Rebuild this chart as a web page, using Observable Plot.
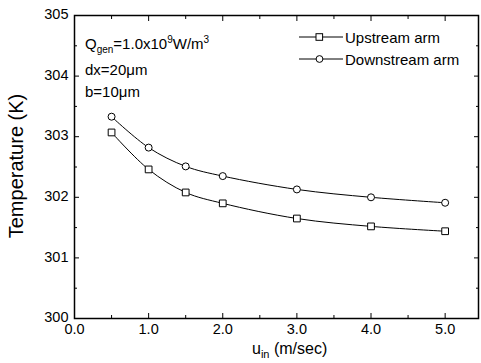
<!DOCTYPE html>
<html>
<head>
<meta charset="utf-8">
<script src="https://cdn.jsdelivr.net/npm/d3@7"></script>
<script src="https://cdn.jsdelivr.net/npm/@observablehq/plot@0.6"></script>
<style>
  html, body { margin: 0; padding: 0; background: #fff; }
  #wrap { position: relative; width: 481px; height: 363px; font-family: "Liberation Sans", Arial, sans-serif; color: #000; }
  #wrap svg.plot { position: absolute; left: 0; top: 0; }
  .ann { position: absolute; font-size: 15px; line-height: 1; white-space: nowrap; }
  .ann sub { font-size: 10px; vertical-align: -4px; }
  .ann sup { font-size: 10px; vertical-align: 6px; }
  #ylab { position: absolute; left: 16px; top: 166px; font-size: 20px; line-height: 1.15; white-space: nowrap; transform: translate(-50%, -50%) rotate(-90deg); }
  #xlab { position: absolute; left: 252px; top: 341px; font-size: 16px; line-height: 1; white-space: nowrap; }
  #xlab sub { font-size: 11px; vertical-align: -4px; }
  #legend { position: absolute; left: 0; top: 0; }
</style>
</head>
<body>
<div id="wrap"></div>
<script>
// Data
const u = [0.5, 1.0, 1.5, 2.0, 3.0, 4.0, 5.0];
const upstream = [303.07, 302.46, 302.08, 301.90, 301.65, 301.52, 301.44];
const downstream = [303.33, 302.82, 302.51, 302.35, 302.13, 302.00, 301.91];
const seriesNames = ["Upstream arm", "Downstream arm"];
const xTicks = [0, 1, 2, 3, 4, 5];
const xMinor = [0.5, 1.5, 2.5, 3.5, 4.5];
const yTicks = [300, 301, 302, 303, 304, 305];
const yMinor = [300.5, 301.5, 302.5, 303.5, 304.5];

const up = u.map((x, i) => ({u: x, t: upstream[i]}));
const down = u.map((x, i) => ({u: x, t: downstream[i]}));

const chart = Plot.plot({
  width: 481, height: 363,
  marginLeft: 74, marginRight: 3, marginTop: 15, marginBottom: 45,
  x: {domain: [0, 5.45]},
  y: {domain: [300, 305]},
  style: {fontFamily: "'Liberation Sans', Arial, sans-serif", fontSize: "14.5px", color: "black", background: "transparent", overflow: "visible"},
  marks: [
    Plot.axisX(xTicks, {anchor: "bottom", tickSize: -5, tickFormat: () => "", label: null}),
    Plot.axisX(xMinor, {anchor: "bottom", tickSize: -3, tickFormat: () => "", label: null}),
    Plot.axisX(xTicks, {anchor: "top", tickSize: -5, tickFormat: () => "", label: null}),
    Plot.axisX(xMinor, {anchor: "top", tickSize: -3, tickFormat: () => "", label: null}),
    Plot.axisX(xTicks, {anchor: "bottom", tickSize: 0, tickPadding: 5, tickFormat: d => d.toFixed(1), label: null}),
    Plot.axisY(yTicks, {anchor: "left", tickSize: -5, tickFormat: () => "", label: null}),
    Plot.axisY(yMinor, {anchor: "left", tickSize: -3, tickFormat: () => "", label: null}),
    Plot.axisY(yTicks, {anchor: "right", tickSize: -5, tickFormat: () => "", label: null}),
    Plot.axisY(yMinor, {anchor: "right", tickSize: -3, tickFormat: () => "", label: null}),
    Plot.axisY(yTicks, {anchor: "left", tickSize: 0, tickPadding: 6, dy: -1, tickFormat: d => String(d), label: null}),
    Plot.frame({stroke: "black", strokeWidth: 1.5}),
    Plot.line(up, {x: "u", y: "t", curve: "catmull-rom", stroke: "black", strokeWidth: 1}),
    Plot.line(down, {x: "u", y: "t", curve: "catmull-rom", stroke: "black", strokeWidth: 1}),
    Plot.dot(up, {x: "u", y: "t", symbol: "square", r: 3.8, fill: "white", stroke: "black", strokeWidth: 1}),
    Plot.dot(down, {x: "u", y: "t", symbol: "circle", r: 3.5, fill: "white", stroke: "black", strokeWidth: 1})
  ]
});
chart.classList.add("plot");
const wrap = document.getElementById("wrap");
wrap.appendChild(chart);

// Annotations
const ann = [
  {html: "Q<sub>gen</sub>=1.0x10<sup>9</sup>W/m<sup>3</sup>", top: 35},
  {html: "dx=20&mu;m", top: 62},
  {html: "b=10&mu;m", top: 84}
];
ann.forEach(a => {
  const d = document.createElement("div");
  d.className = "ann";
  d.style.left = "85px";
  d.style.top = a.top + "px";
  d.innerHTML = a.html;
  wrap.appendChild(d);
});

// Axis labels
const yl = document.createElement("div");
yl.id = "ylab"; yl.textContent = "Temperature (K)";
wrap.appendChild(yl);
const xl = document.createElement("div");
xl.id = "xlab"; xl.innerHTML = "u<sub>in</sub> (m/sec)";
wrap.appendChild(xl);

// Legend
const ns = "http://www.w3.org/2000/svg";
const lg = document.createElementNS(ns, "svg");
lg.setAttribute("id", "legend");
lg.setAttribute("width", 481); lg.setAttribute("height", 363);
const rows = [{y: 37, sym: "square"}, {y: 59, sym: "circle"}];
rows.forEach((r, i) => {
  const ln = document.createElementNS(ns, "line");
  ln.setAttribute("x1", 299); ln.setAttribute("x2", 343);
  ln.setAttribute("y1", r.y); ln.setAttribute("y2", r.y);
  ln.setAttribute("stroke", "black"); ln.setAttribute("stroke-width", 1);
  lg.appendChild(ln);
  let m;
  if (r.sym === "square") {
    m = document.createElementNS(ns, "rect");
    m.setAttribute("x", 316); m.setAttribute("y", r.y - 3.3);
    m.setAttribute("width", 6.6); m.setAttribute("height", 6.6);
  } else {
    m = document.createElementNS(ns, "circle");
    m.setAttribute("cx", 319.5); m.setAttribute("cy", r.y); m.setAttribute("r", 3.4);
  }
  m.setAttribute("fill", "white"); m.setAttribute("stroke", "black");
  lg.appendChild(m);
  const t = document.createElementNS(ns, "text");
  t.setAttribute("x", 345); t.setAttribute("y", r.y + 5.5);
  t.setAttribute("font-size", 15);
  t.setAttribute("font-family", "'Liberation Sans', Arial, sans-serif");
  t.textContent = seriesNames[i];
  lg.appendChild(t);
});
wrap.appendChild(lg);
</script>
</body>
</html>
